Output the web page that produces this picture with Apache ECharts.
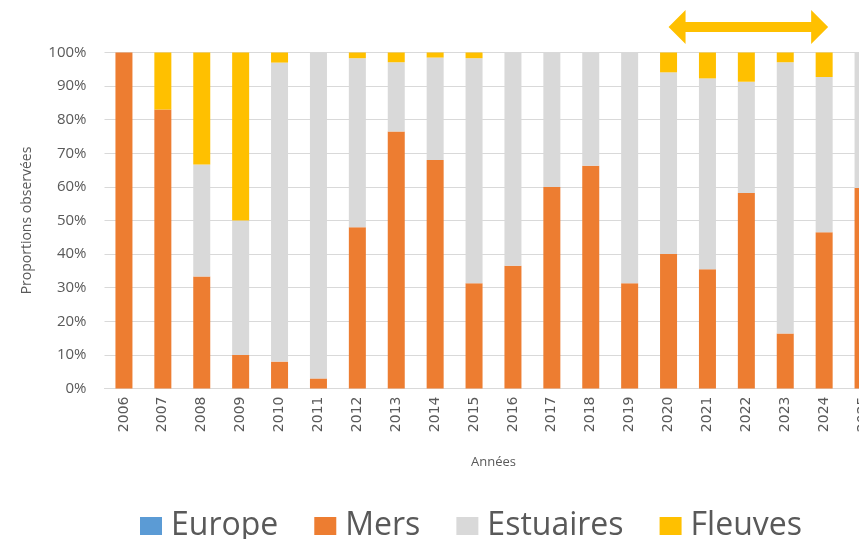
<!DOCTYPE html>
<html>
<head>
<meta charset="utf-8">
<script src="https://cdn.jsdelivr.net/npm/echarts@6/dist/echarts.min.js"></script>
<style>
  html, body { margin: 0; padding: 0; background: #fff; }
  #main { width: 859px; height: 539px; }
</style>
</head>
<body>
<div id="main"></div>
<script>
// années et proportions (%)
var annees = ['2006', '2007', '2008', '2009', '2010', '2011', '2012', '2013', '2014', '2015',
              '2016', '2017', '2018', '2019', '2020', '2021', '2022', '2023', '2024', '2025'];
var europe    = [0, 0, 0, 0, 0, 0, 0, 0, 0, 0, 0, 0, 0, 0, 0, 0, 0, 0, 0, 0];
var mers      = [100, 83, 33.3, 10, 8, 3, 48, 76.5, 68, 31.3, 36.5, 60, 66.3, 31.3, 40, 35.5, 58.2, 16.4, 46.5, 59.7];
var estuaires = [0, 0, 33.4, 40, 89, 97, 50.3, 20.6, 30.5, 67, 63.5, 40, 33.7, 68.7, 54.1, 56.8, 33.1, 80.7, 46.2, 40.3];
var fleuves   = [0, 17, 33.3, 50, 3, 0, 1.7, 2.9, 1.5, 1.7, 0, 0, 0, 0, 5.9, 7.7, 8.7, 2.9, 7.3, 0];
// période mise en évidence par la flèche
var periode = ['2020', '2024'];

var police = 'Open Sans';
var gris = '#595959';

function serie(nom, data, couleur) {
    return {
        name: nom,
        type: 'bar',
        stack: 'total',
        barWidth: 17,
        data: data,
        itemStyle: { color: couleur },
        emphasis: { disabled: true }
    };
}

var chart = echarts.init(document.getElementById('main'));
chart.setOption({
    animation: false,
    textStyle: { fontFamily: police },
    // la grille dépasse à droite : la barre 2025 est coupée comme sur l'original
    grid: { left: 104.5, top: 52.5, height: 336, width: 778, outerBoundsMode: 'none', containLabel: false },
    legend: {
        data: ['Europe', 'Mers', 'Estuaires', 'Fleuves'],
        left: 140,
        top: 510,
        padding: 0,
        icon: 'rect',
        itemWidth: 22,
        itemHeight: 18,
        itemGap: 36,
        textStyle: { fontFamily: police, fontSize: 32, color: gris, padding: [0, 0, 0, 4] }
    },
    xAxis: {
        type: 'category',
        data: annees,
        name: 'Années',
        nameLocation: 'middle',
        nameGap: 67,
        nameTextStyle: { fontFamily: police, fontSize: 13, color: gris },
        axisLine: { lineStyle: { color: '#d9d9d9', width: 1 } },
        axisTick: { show: false },
        axisLabel: { rotate: 90, fontSize: 14, color: gris, margin: 8, fontFamily: 'DejaVu Sans' }
    },
    yAxis: {
        type: 'value',
        min: 0,
        max: 100,
        interval: 10,
        name: 'Proportions observées',
        nameLocation: 'middle',
        nameRotate: 90,
        nameGap: 70,
        nameTextStyle: { fontFamily: police, fontSize: 14, color: gris },
        axisLine: { show: false },
        axisTick: { show: false },
        splitLine: { lineStyle: { color: '#d9d9d9', width: 1 } },
        axisLabel: { formatter: '{value}%', fontSize: 15, color: gris, margin: 18 }
    },
    series: [
        serie('Europe', europe, '#5B9BD5'),
        serie('Mers', mers, '#ED7D31'),
        serie('Estuaires', estuaires, '#D9D9D9'),
        serie('Fleuves', fleuves, '#FFC000')
    ]
});

// flèche double au-dessus de la période
var x1 = chart.convertToPixel({ xAxisIndex: 0 }, periode[0]);
var x2 = chart.convertToPixel({ xAxisIndex: 0 }, periode[1]) + 4;
var yc = 27, demi = 5, tete = 17, longTete = 17;
chart.setOption({
    graphic: [{
        type: 'polygon',
        shape: {
            points: [
                [x1, yc],
                [x1 + longTete, yc - tete],
                [x1 + longTete, yc - demi],
                [x2 - longTete, yc - demi],
                [x2 - longTete, yc - tete],
                [x2, yc],
                [x2 - longTete, yc + tete],
                [x2 - longTete, yc + demi],
                [x1 + longTete, yc + demi],
                [x1 + longTete, yc + tete]
            ]
        },
        style: { fill: '#FFC000' }
    }]
});
</script>
</body>
</html>
